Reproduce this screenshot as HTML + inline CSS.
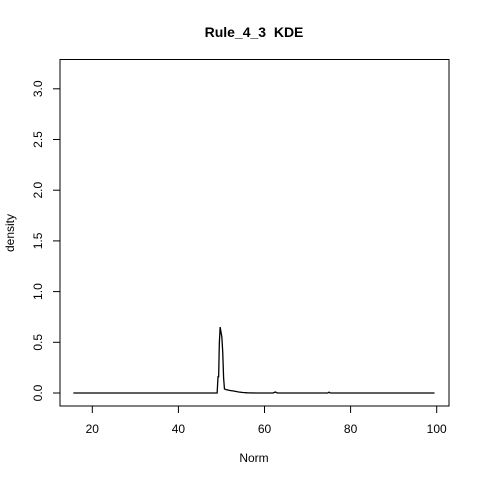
<!DOCTYPE html>
<html><head><meta charset="utf-8"><style>
body{margin:0;background:#fff}
svg text{font-family:"Liberation Sans",Arial,sans-serif;fill:#000}
</style></head><body>
<svg width="480" height="480" id="c">
<rect x="0" y="0" width="480" height="480" fill="#fff"/>
<text x="254" y="37" font-size="14" font-weight="bold" text-anchor="middle">Rule_4_3&#160; KDE</text>
<rect x="60" y="59.5" width="389" height="346.5" fill="none" stroke="#000" stroke-width="1"/>
<text x="254" y="462" font-size="12" text-anchor="middle">Norm</text>
<text transform="translate(14,233) rotate(-90)" font-size="12" text-anchor="middle">density</text>
<g id="ax"></g>
<path id="line" fill="none" stroke="#000" stroke-width="1.3"/>
</svg>
<script>
const xTicks=[20,40,60,80,100];
const yTicks=[0,0.5,1,1.5,2,2.5,3];
const yTickLabels=["0.0","0.5","1.0","1.5","2.0","2.5","3.0"];
const xs=[15.6,49.0,49.2,49.35,49.5,49.7,49.9,50.1,50.3,50.5,50.7,51.0,52.0,53.0,54.0,55.0,56.0,58.0,62.0,62.5,63.0,74.7,75.0,75.3,99.5];
const ys=[0,0,0.16,0.16,0.48,0.65,0.6,0.55,0.4,0.15,0.04,0.035,0.025,0.018,0.01,0.005,0.002,0,0,0.01,0,0,0.008,0,0];
const X=v=>92.3+(v-20)*4.305;
const Y=v=>393-v*101.4;
const ns="http://www.w3.org/2000/svg";
const ax=document.getElementById('ax');
function mk(t,a){const e=document.createElementNS(ns,t);for(const k in a)e.setAttribute(k,a[k]);ax.appendChild(e);return e;}
mk('line',{x1:X(20),x2:X(100),y1:406,y2:406,stroke:'#000'});
xTicks.forEach(v=>{
 const t=mk('line',{x1:X(v),x2:X(v),y1:406,y2:413,stroke:'#000'});
 
 
 const l=mk('text',{x:X(v),y:433,'font-size':12,'text-anchor':'middle'});l.textContent=v;
 
 
});
mk('line',{x1:60,x2:60,y1:Y(0),y2:Y(3),stroke:'#000'});
yTicks.forEach((v,i)=>{
 const t=mk('line',{x1:53,x2:60,y1:Y(v),y2:Y(v),stroke:'#000'});
 
 
 const l=mk('text',{transform:`translate(42,${Y(v)}) rotate(-90)`,'font-size':12,'text-anchor':'middle'});l.textContent=yTickLabels[i];
 
 
});
document.getElementById('line').setAttribute('d',xs.map((x,i)=>(i?'L':'M')+X(x).toFixed(2)+','+Y(ys[i]).toFixed(2)).join(''));
</script>
</body></html>
